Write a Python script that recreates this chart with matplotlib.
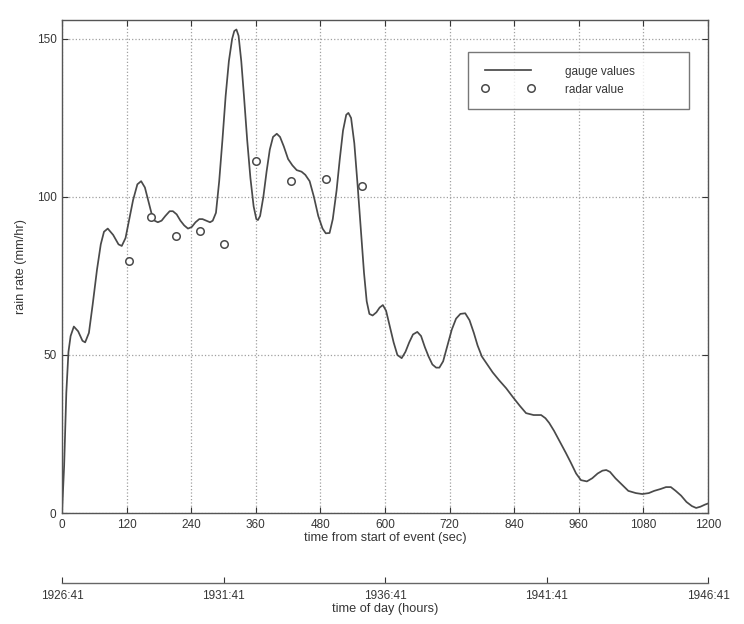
import matplotlib
matplotlib.use("Agg")
import matplotlib.pyplot as plt

plt.rcParams['font.family'] = ['Liberation Sans', 'DejaVu Sans']

# Gauge rain rate (mm/hr) against time from start of event (sec)
gauge_t = [0, 4, 8, 12, 16, 22, 30, 38, 43, 50, 57, 65, 72, 78, 85, 95, 105, 111,
           118, 125, 132, 140, 147, 154, 160, 166, 172, 178, 185, 192, 200, 206,
           213, 220, 227, 234, 241, 248, 255, 261, 268, 275, 280, 286, 292, 298,
           304, 310, 316, 320, 324, 328, 333, 338, 344, 350, 356, 361, 364, 368,
           374, 380, 386, 392, 399, 405, 412, 420, 428, 436, 445, 452, 460, 468,
           476, 484, 490, 497, 503, 510, 516, 522, 528, 532, 537, 543, 549, 555,
           561, 566, 571, 577, 584, 590, 596, 602, 609, 616, 623, 631, 638, 645,
           652, 660, 667, 674, 681, 688, 695, 701, 708, 716, 724, 732, 740, 749,
           757, 765, 772, 780, 788, 800, 812, 825, 837, 850, 862, 876, 890, 898,
           905, 914, 925, 936, 945, 955, 964, 975, 985, 995, 1004, 1011, 1018,
           1028, 1040, 1052, 1066, 1078, 1090, 1100, 1112, 1122, 1131, 1140, 1150,
           1160, 1170, 1178, 1186, 1195, 1200]
gauge_rate = [0, 15, 38, 51, 56, 59, 57.5, 54.5, 54, 57, 66, 77, 85, 89, 90, 88,
              85, 84.5, 87, 93, 99, 104, 105, 103, 99, 95, 92.5, 92, 92.5, 94,
              95.5, 95.5, 94.5, 92.5, 91, 90, 90.5, 92, 93, 93, 92.5, 92, 92.5,
              95, 105, 118, 132, 143, 150, 152.5, 153, 151, 143, 132, 118, 106,
              97, 93, 92.7, 94, 100, 108, 115, 119, 120, 119, 116, 112, 110,
              108.5, 108, 107, 105, 100, 94, 90, 88.5, 88.6, 93, 102, 112, 121,
              126, 126.6, 125, 117, 104, 90, 76, 67, 63, 62.5, 63.5, 65, 65.8,
              64, 59, 54, 50, 49, 51, 54, 56.5, 57.3, 56, 52.5, 49.5, 47, 46, 46,
              48, 53, 58, 61.5, 63, 63.2, 61, 57, 53, 49.5, 47.5, 44.5, 42, 39.5,
              36.8, 34, 31.6, 31, 31, 30, 28.5, 26, 22.5, 19, 16, 12.5, 10.4, 10,
              11, 12.5, 13.4, 13.6, 13, 11, 9, 7, 6.3, 6, 6.3, 7, 7.6, 8.2, 8.2,
              7, 5.5, 3.5, 2.2, 1.6, 2, 2.7, 3]

# Radar estimates at the gauge
radar_t = [124, 166, 211, 256, 300, 360, 426, 491, 557]
radar_rate = [79.7, 93.6, 87.7, 89.3, 85, 111.5, 105, 105.7, 103.5]

x_ticks = [0, 120, 240, 360, 480, 600, 720, 840, 960, 1080, 1200]
y_ticks = [0, 50, 100, 150]
clock_ticks = [0, 300, 600, 900, 1200]
clock_labels = ['1926:41', '1931:41', '1936:41', '1941:41', '1946:41']

ink = '#363636'
line_col = '#4a4a4a'
grid_col = '#a0a0a0'

fig = plt.figure(figsize=(7.44, 6.24), dpi=100)
W, H = 744, 624

ax = fig.add_axes([62 / W, 1 - 513 / H, 646 / W, 493 / H])
ax.plot(gauge_t, gauge_rate, color=line_col, lw=1.25, label='gauge values')
ax.plot(radar_t, radar_rate, linestyle='none', marker='o', ms=5.4,
        mfc='white', mec=line_col, mew=1.1, label='radar value')

ax.set_xlim(0, 1200)
ax.set_ylim(0, 156)
ax.set_xticks(x_ticks)
ax.set_yticks(y_ticks)
ax.grid(True, linestyle=':', color=grid_col, lw=0.9)
ax.tick_params(direction='in', length=4, width=0.8, colors=ink,
               labelsize=8.5, top=True, right=True, pad=4)
for s in ax.spines.values():
    s.set_color('#555555')
    s.set_linewidth(1.0)
ax.set_xlabel('time from start of event (sec)', fontsize=9.2, color=ink,
              labelpad=1)
ax.set_ylabel('rain rate (mm/hr)', fontsize=9.2, color=ink, labelpad=7)

leg = ax.legend(loc='upper left', bbox_to_anchor=(0.628, 0.935, 0.342, 0.0),
                mode='expand', fontsize=8.5, frameon=True, fancybox=False,
                numpoints=2, handlelength=4.5, handletextpad=2.6,
                borderpad=1.15, labelspacing=0.5, borderaxespad=0)
leg.get_frame().set_edgecolor('#555555')
leg.get_frame().set_linewidth(1.0)
for t in leg.get_texts():
    t.set_color(ink)

# Clock-time axis below the main plot
ax2 = fig.add_axes([62 / W, 1 - 583 / H, 646 / W, 0.001])
ax2.set_xlim(0, 1200)
ax2.set_yticks([])
for side in ('top', 'left', 'right'):
    ax2.spines[side].set_visible(False)
ax2.spines['bottom'].set_color('#666666')
ax2.spines['bottom'].set_linewidth(1.0)
ax2.set_xticks(clock_ticks)
ax2.set_xticklabels(clock_labels)
ax2.tick_params(axis='x', direction='in', length=4, width=0.8, colors=ink,
                labelsize=8.5, pad=5)
ax2.set_xlabel('time of day (hours)', fontsize=9.2, color=ink, labelpad=1)
ax2.patch.set_visible(False)

fig.savefig('out.png', dpi=100, facecolor='white')
